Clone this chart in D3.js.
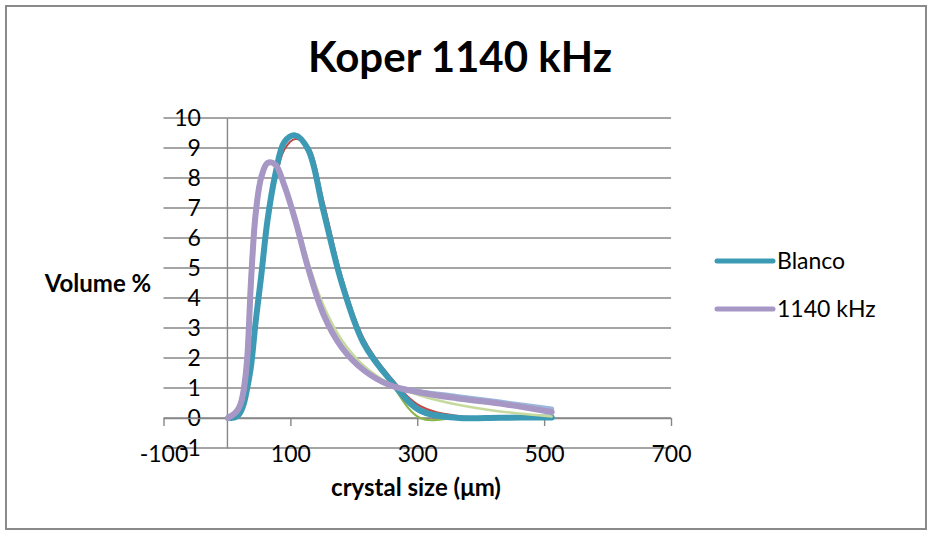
<!DOCTYPE html>
<html>
<head>
<meta charset="utf-8">
<script src="https://cdn.jsdelivr.net/npm/d3@7"></script>
<style>
  html, body { margin: 0; padding: 0; background: #fff; }
  svg { display: block; }
  text { font-family: Lato, "Open Sans", sans-serif; fill: #000; }
</style>
</head>
<body>
<svg id="chart" width="933" height="540"></svg>
<script>
// Crystal size classes (µm)
const sizes = [2.0, 2.38, 2.83, 3.36, 4.0, 4.76, 5.66, 6.73, 8.0, 9.51, 11.31, 13.45, 16.0, 19.03,
  22.63, 26.91, 32.0, 38.05, 45.25, 53.82, 64.0, 76.11, 90.51, 107.63, 128.0, 152.22, 181.02,
  215.27, 256.0, 304.44, 362.04, 430.54, 512.0];

// Volume % per size class — reference (Blanco) runs
const blanco1 = [0, 0, 0, 0, 0, 0, 0, 0, 0.01, 0.01, 0.02, 0.03, 0.06, 0.12, 0.25, 0.5, 1.0, 1.75,
  3.2, 4.7, 6.6, 8.1, 9.2, 9.4, 8.95, 6.95, 4.5, 2.5, 1.25, 0.2, 0.01, 0, 0];
const blanco2 = [0, 0, 0, 0, 0, 0, 0, 0, 0.01, 0.01, 0.02, 0.03, 0.05, 0.1, 0.2, 0.42, 0.9, 1.6,
  3.0, 4.5, 6.4, 7.9, 8.95, 9.3, 9.05, 7.2, 4.7, 2.65, 1.4, 0.4, 0.07, 0.01, 0];
const blanco3 = [0, 0, 0, 0, 0, 0, 0, 0, 0.01, 0.01, 0.02, 0.03, 0.06, 0.12, 0.25, 0.5, 1.0, 1.75,
  3.2, 4.7, 6.6, 8.1, 9.2, 9.45, 9.0, 7.0, 4.5, 2.5, 1.25, 0.0, 0.0, 0.0, 0.0];
const blanco = [0, 0, 0, 0, 0, 0, 0, 0, 0.01, 0.01, 0.02, 0.03, 0.06, 0.12, 0.25, 0.5, 1.0, 1.75,
  3.2, 4.7, 6.6, 8.1, 9.2, 9.42, 8.95, 6.9, 4.5, 2.5, 1.3, 0.25, 0.01, 0.01, 0.02];

// Volume % per size class — 1140 kHz ultrasound runs
const khz1 = [0, 0.01, 0.02, 0.03, 0.04, 0.05, 0.06, 0.07, 0.09, 0.11, 0.14, 0.18, 0.24, 0.35,
  0.55, 1.0, 2.0, 4.6, 6.8, 8.0, 8.5, 8.45, 7.75, 6.6, 5.0, 3.45, 2.35, 1.6, 1.1, 0.88, 0.72, 0.53, 0.3];
const khz2 = [0, 0.01, 0.02, 0.03, 0.04, 0.05, 0.06, 0.07, 0.09, 0.11, 0.14, 0.18, 0.24, 0.35,
  0.55, 1.0, 2.0, 4.6, 6.8, 8.0, 8.45, 8.5, 7.85, 6.75, 5.2, 3.75, 2.6, 1.75, 1.15, 0.75, 0.45, 0.22, 0.05];
const khz1140 = [0, 0.01, 0.02, 0.03, 0.04, 0.05, 0.06, 0.07, 0.09, 0.11, 0.14, 0.18, 0.24, 0.35,
  0.55, 1.0, 2.0, 4.6, 6.8, 8.0, 8.5, 8.45, 7.75, 6.6, 5.0, 3.45, 2.35, 1.6, 1.1, 0.85, 0.66, 0.48, 0.2];

// Axis ticks
const xTicks = [-100, 100, 300, 500, 700];
const yTicks = [-1, 0, 1, 2, 3, 4, 5, 6, 7, 8, 9, 10];

// Drawing order (bottom to top) with line styles
const series = [
  { values: blanco1, color: "#4F81BD", width: 2.5 },
  { values: blanco2, color: "#BE4B48", width: 2.2 },
  { values: blanco3, color: "#8DB54A", width: 2.2 },
  { values: blanco, color: "#3D9AB5", width: 6 },
  { values: khz1, color: "#9BB7DC", width: 5 },
  { values: khz2, color: "#C6DA9E", width: 2.5 },
  { values: khz1140, color: "#A797C4", width: 6 }
];
const legendItems = [
  { label: "Blanco", color: "#3D9AB5" },
  { label: "1140 kHz", color: "#A797C4" }
];

const svg = d3.select("#chart");

// Chart frame
svg.append("rect")
  .attr("x", 6).attr("y", 6).attr("width", 920).attr("height", 523)
  .attr("fill", "#fff").attr("stroke", "#8a8a8a").attr("stroke-width", 2);

const x = d3.scaleLinear().domain([-100, 700]).range([163.5, 671]);
const y = d3.scaleLinear().domain([-1, 10]).range([448, 118]);

// Horizontal gridlines
svg.append("g")
  .selectAll("line")
  .data(yTicks)
  .join("line")
  .attr("x1", x(-100)).attr("x2", x(700))
  .attr("y1", d => y(d)).attr("y2", d => y(d))
  .attr("stroke", "#878787").attr("stroke-width", 1.4);

const plain = d => String(d);

// Vertical axis crossing at x = 0
const yAxis = svg.append("g")
  .attr("transform", `translate(${x(0)},0)`)
  .call(d3.axisLeft(y).tickValues(yTicks).tickFormat(plain)
    .tickSize(0).tickSizeOuter(0).tickPadding(26));
yAxis.select(".domain").attr("stroke", "#878787").attr("stroke-width", 1.4);
yAxis.selectAll("text").attr("font-size", 23).attr("font-family", "Lato, sans-serif");

// Horizontal axis crossing at y = 0, labels along the bottom
const xAxis = svg.append("g")
  .attr("transform", `translate(0,${y(0)})`)
  .call(d3.axisBottom(x).tickValues(xTicks).tickFormat(plain)
    .tickSize(8).tickSizeOuter(0).tickPadding(20));
xAxis.select(".domain").attr("stroke", "#878787").attr("stroke-width", 1.4);
xAxis.selectAll(".tick line").attr("stroke", "#878787").attr("stroke-width", 1.4);
xAxis.selectAll("text").attr("font-size", 23).attr("font-family", "Lato, sans-serif");

// Smoothed distribution curves
const line = d3.line()
  .x((d, i) => x(sizes[i]))
  .y(d => y(d))
  .curve(d3.curveCatmullRom.alpha(0.5));

svg.append("g")
  .selectAll("path")
  .data(series)
  .join("path")
  .attr("d", d => line(d.values))
  .attr("fill", "none")
  .attr("stroke", d => d.color)
  .attr("stroke-width", d => d.width)
  .attr("stroke-linecap", "round")
  .attr("stroke-linejoin", "round");

// Titles
svg.append("text")
  .attr("x", 460).attr("y", 72)
  .attr("text-anchor", "middle")
  .attr("font-size", 42).attr("font-weight", "bold")
  .text("Koper 1140 kHz");

svg.append("text")
  .attr("x", 416).attr("y", 496)
  .attr("text-anchor", "middle")
  .attr("font-size", 24).attr("font-weight", "bold")
  .text("crystal size (μm)");

svg.append("text")
  .attr("x", 98).attr("y", 292)
  .attr("text-anchor", "middle")
  .attr("font-size", 24).attr("font-weight", "bold")
  .text("Volume %");

// Legend
const legend = svg.append("g")
  .selectAll("g")
  .data(legendItems)
  .join("g")
  .attr("transform", (d, i) => `translate(717,${261 + i * 48})`);
legend.append("line")
  .attr("x1", 0).attr("x2", 56).attr("y1", 0).attr("y2", 0)
  .attr("stroke", d => d.color).attr("stroke-width", 5).attr("stroke-linecap", "round");
legend.append("text")
  .attr("x", 60).attr("y", 8)
  .attr("font-size", 23)
  .text(d => d.label);
</script>
</body>
</html>
